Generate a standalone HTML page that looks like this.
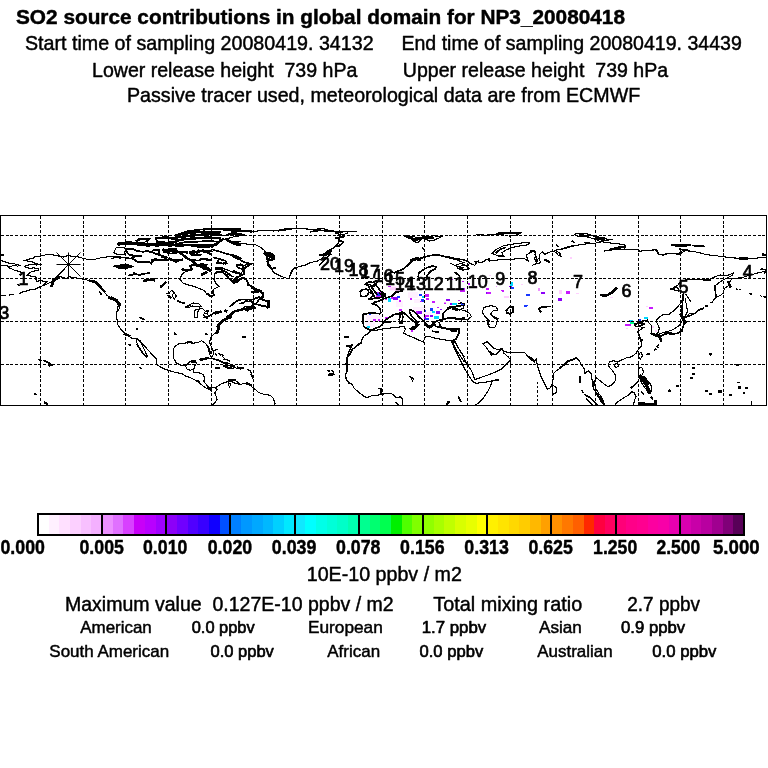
<!DOCTYPE html>
<html><head><meta charset="utf-8"><title>SO2 source contributions</title>
<style>
html,body{margin:0;padding:0;background:#fff;}
body{width:768px;height:768px;overflow:hidden;}
svg{display:block;font-family:"Liberation Sans",sans-serif;will-change:transform;}
text{white-space:pre;}
</style></head>
<body>
<svg width="768" height="768" viewBox="0 0 768 768">
<rect width="768" height="768" fill="#fff"/>
<g fill="#000" stroke="#000" stroke-width="0.45" stroke-linejoin="round">
<text transform="translate(16.00 23.80) scale(1.0105 1)" font-size="20.6" font-weight="bold">SO2 source contributions in global domain for NP3_20080418</text>
<text transform="translate(25.00 49.80) scale(1.0032 1)" font-size="19.6">Start time of sampling 20080419. 34132</text>
<text transform="translate(401.40 49.80) scale(0.9986 1)" font-size="19.6">End time of sampling 20080419. 34439</text>
<text transform="translate(92.00 76.80) scale(0.9981 1)" font-size="19.6">Lower release height  739 hPa</text>
<text transform="translate(402.80 76.80) scale(0.9985 1)" font-size="19.6">Upper release height  739 hPa</text>
<text transform="translate(127.00 102.00) scale(1.0023 1)" font-size="19.6">Passive tracer used, meteorological data are from ECMWF</text>
<text transform="translate(306.70 580.60) scale(1.0035 1)" font-size="19.6">10E-10 ppbv / m2</text>
<text transform="translate(65.00 611.00) scale(0.9967 1)" font-size="19.6">Maximum value  0.127E-10 ppbv / m2</text>
<text transform="translate(433.30 611.00) scale(1.0128 1)" font-size="19.6">Total mixing ratio</text>
<text transform="translate(627.30 611.00) scale(0.9685 1)" font-size="19.6">2.7 ppbv</text>
<text transform="translate(80.30 633.20) scale(1.0331 1)" font-size="16.4">American</text>
<text transform="translate(191.70 633.20) scale(1.0018 1)" font-size="16.4" stroke-width="0.65">0.0 ppbv</text>
<text transform="translate(307.95 633.20) scale(1.0533 1)" font-size="16.4">European</text>
<text transform="translate(421.67 633.20) scale(1.0257 1)" font-size="16.4" stroke-width="0.65">1.7 ppbv</text>
<text transform="translate(539.00 633.20) scale(1.0444 1)" font-size="16.4">Asian</text>
<text transform="translate(621.00 633.20) scale(1.0206 1)" font-size="16.4" stroke-width="0.65">0.9 ppbv</text>
<text transform="translate(49.30 656.50) scale(1.0361 1)" font-size="16.4">South American</text>
<text transform="translate(210.50 656.50) scale(1.0081 1)" font-size="16.4" stroke-width="0.65">0.0 ppbv</text>
<text transform="translate(327.30 656.50) scale(1.0354 1)" font-size="16.4">African</text>
<text transform="translate(419.50 656.50) scale(1.0128 1)" font-size="16.4" stroke-width="0.65">0.0 ppbv</text>
<text transform="translate(537.30 656.50) scale(1.0334 1)" font-size="16.4">Australian</text>
<text transform="translate(652.30 656.50) scale(1.0206 1)" font-size="16.4" stroke-width="0.65">0.0 ppbv</text>
<text transform="translate(0.50 553.80) scale(0.9057 1)" font-size="19.6" font-weight="bold">0.000</text>
<text transform="translate(79.50 553.80) scale(0.9057 1)" font-size="19.6" font-weight="bold">0.005</text>
<text transform="translate(143.00 553.80) scale(0.9057 1)" font-size="19.6" font-weight="bold">0.010</text>
<text transform="translate(207.70 553.80) scale(0.9077 1)" font-size="19.6" font-weight="bold">0.020</text>
<text transform="translate(271.80 553.80) scale(0.9077 1)" font-size="19.6" font-weight="bold">0.039</text>
<text transform="translate(336.00 553.80) scale(0.9077 1)" font-size="19.6" font-weight="bold">0.078</text>
<text transform="translate(400.10 553.80) scale(0.9077 1)" font-size="19.6" font-weight="bold">0.156</text>
<text transform="translate(464.30 553.80) scale(0.9077 1)" font-size="19.6" font-weight="bold">0.313</text>
<text transform="translate(528.40 553.80) scale(0.9077 1)" font-size="19.6" font-weight="bold">0.625</text>
<text transform="translate(593.10 553.80) scale(0.8996 1)" font-size="19.6" font-weight="bold">1.250</text>
<text transform="translate(656.50 553.80) scale(0.8914 1)" font-size="19.6" font-weight="bold">2.500</text>
<text transform="translate(713.00 553.80) scale(0.9525 1)" font-size="19.6" font-weight="bold">5.000</text>
</g>
<clipPath id="mc"><rect x="0" y="215" width="767" height="191"/></clipPath>
<g clip-path="url(#mc)">
<g shape-rendering="crispEdges"><rect x="366.4" y="314.8" width="15.0" height="7.5" fill="#fff0ff"/><rect x="366.4" y="322.2" width="8.8" height="5.0" fill="#fff0ff"/><rect x="395.8" y="301.0" width="7.5" height="6.2" fill="#fff0ff"/><rect x="388.9" y="286.0" width="10.0" height="5.0" fill="#fff0ff"/><rect x="408.2" y="291.6" width="10.0" height="6.2" fill="#fff0ff"/><rect x="413.9" y="299.1" width="6.2" height="3.8" fill="#fff0ff"/><rect x="413.2" y="306.6" width="12.5" height="6.2" fill="#fff0ff"/><rect x="422.6" y="312.2" width="8.8" height="5.0" fill="#fff0ff"/><rect x="390.1" y="286.6" width="6.2" height="3.8" fill="#ffd0ff"/><rect x="394.5" y="287.9" width="5.0" height="3.8" fill="#ffd0ff"/><rect x="376.4" y="291.6" width="7.5" height="6.2" fill="#c818ff"/><rect x="377.2" y="292.5" width="3.2" height="3.2" fill="#1838ff"/><rect x="388.1" y="285.9" width="2.8" height="1.5" fill="#c818ff"/><rect x="392.6" y="296.6" width="5.0" height="3.8" fill="#8c00f8"/><rect x="390.8" y="296.6" width="2.5" height="2.5" fill="#c818ff"/><rect x="387.9" y="297.8" width="3.2" height="4.0" fill="#00d8ff"/><rect x="396.6" y="296.2" width="3.2" height="2.0" fill="#1838ff"/><rect x="399.0" y="299.8" width="2.2" height="1.8" fill="#c818ff"/><rect x="384.5" y="298.4" width="2.5" height="1.5" fill="#c818ff"/><rect x="409.5" y="298.4" width="2.5" height="1.5" fill="#c818ff"/><rect x="418.8" y="293.8" width="2.8" height="2.0" fill="#1838ff"/><rect x="425.4" y="294.4" width="3.8" height="2.5" fill="#c818ff"/><rect x="421.4" y="298.5" width="3.0" height="3.0" fill="#1838ff"/><rect x="422.0" y="296.1" width="2.5" height="2.2" fill="#00d8ff"/><rect x="426.2" y="298.2" width="3.2" height="2.0" fill="#c818ff"/><rect x="420.4" y="300.9" width="2.0" height="1.5" fill="#c818ff"/><rect x="432.2" y="301.2" width="3.2" height="2.0" fill="#c818ff"/><rect x="444.1" y="302.4" width="2.0" height="1.2" fill="#ec90ff"/><rect x="398.5" y="308.8" width="3.2" height="2.0" fill="#c818ff"/><rect x="417.0" y="311.0" width="5.0" height="2.5" fill="#8c00f8"/><rect x="415.8" y="310.8" width="2.5" height="1.8" fill="#c818ff"/><rect x="423.5" y="310.0" width="2.0" height="2.0" fill="#1838ff"/><rect x="429.8" y="308.0" width="3.2" height="3.0" fill="#1838ff"/><rect x="431.9" y="311.2" width="2.8" height="2.0" fill="#00d8ff"/><rect x="436.4" y="311.0" width="3.8" height="2.5" fill="#8c00f8"/><rect x="440.4" y="309.1" width="2.0" height="1.2" fill="#8c00f8"/><rect x="425.4" y="314.8" width="3.2" height="2.5" fill="#c818ff"/><rect x="430.0" y="315.0" width="2.8" height="2.0" fill="#8c00f8"/><rect x="434.1" y="316.0" width="4.5" height="2.5" fill="#00d8ff"/><rect x="425.1" y="318.2" width="3.8" height="2.0" fill="#1838ff"/><rect x="424.1" y="317.0" width="2.0" height="1.8" fill="#8c00f8"/><rect x="368.9" y="314.1" width="2.5" height="1.2" fill="#1838ff"/><rect x="373.2" y="319.4" width="2.5" height="1.2" fill="#c818ff"/><rect x="377.8" y="319.4" width="2.2" height="1.2" fill="#c818ff"/><rect x="384.8" y="317.4" width="3.2" height="1.2" fill="#c818ff"/><rect x="367.0" y="326.0" width="2.5" height="1.5" fill="#00d8ff"/><rect x="428.9" y="325.6" width="1.2" height="1.2" fill="#1838ff"/><rect x="432.2" y="323.6" width="2.0" height="1.2" fill="#c818ff"/><rect x="411.1" y="330.4" width="1.8" height="1.2" fill="#c818ff"/><rect x="460.0" y="288.0" width="5.2" height="4.2" fill="#c818ff"/><rect x="461.0" y="287.7" width="3.1" height="2.1" fill="#1838ff"/><rect x="450.8" y="279.2" width="1.7" height="1.2" fill="#c818ff"/><rect x="462.2" y="280.6" width="1.7" height="1.2" fill="#c818ff"/><rect x="467.5" y="283.3" width="2.1" height="1.2" fill="#c818ff"/><rect x="473.7" y="285.9" width="2.7" height="1.2" fill="#c818ff"/><rect x="486.3" y="288.4" width="2.7" height="1.2" fill="#c818ff"/><rect x="486.2" y="291.9" width="4.8" height="1.9" fill="#8c00f8"/><rect x="489.4" y="275.1" width="1.5" height="1.0" fill="#ffd0ff"/><rect x="495.6" y="285.5" width="1.7" height="1.0" fill="#ec90ff"/><rect x="501.3" y="290.1" width="2.7" height="1.0" fill="#c818ff"/><rect x="503.7" y="296.2" width="4.2" height="1.2" fill="#ffd0ff"/><rect x="510.0" y="281.7" width="2.5" height="3.8" fill="#00d8ff"/><rect x="511.2" y="286.9" width="3.1" height="2.5" fill="#1838ff"/><rect x="509.4" y="285.6" width="2.1" height="1.7" fill="#8c00f8"/><rect x="446.4" y="299.4" width="3.1" height="1.2" fill="#8c00f8"/><rect x="457.9" y="299.5" width="2.1" height="1.0" fill="#c818ff"/><rect x="449.5" y="303.1" width="4.2" height="2.1" fill="#8c00f8"/><rect x="451.9" y="303.4" width="4.6" height="1.9" fill="#00d8ff"/><rect x="461.0" y="302.7" width="4.2" height="2.1" fill="#1838ff"/><rect x="444.0" y="303.2" width="1.7" height="1.0" fill="#c818ff"/><rect x="437.0" y="306.9" width="2.1" height="1.2" fill="#c818ff"/><rect x="486.7" y="291.8" width="4.3" height="1.7" fill="#c818ff"/><rect x="474.0" y="286.0" width="3.0" height="1.7" fill="#c818ff"/><rect x="501.7" y="290.2" width="2.7" height="1.7" fill="#c818ff"/><rect x="504.2" y="296.0" width="4.3" height="1.7" fill="#ffd0ff"/><rect x="526.3" y="294.3" width="3.3" height="1.7" fill="#1838ff"/><rect x="523.8" y="305.2" width="3.3" height="1.7" fill="#1838ff"/><rect x="537.8" y="287.5" width="2.0" height="2.0" fill="#ffd0ff"/><rect x="541.3" y="291.8" width="3.3" height="1.7" fill="#8c00f8"/><rect x="559.3" y="290.2" width="2.3" height="3.3" fill="#ffd0ff"/><rect x="566.3" y="291.5" width="3.3" height="2.3" fill="#c818ff"/><rect x="557.5" y="298.2" width="4.3" height="2.3" fill="#8c00f8"/><rect x="569.7" y="257.8" width="1.7" height="1.3" fill="#ffd0ff"/><rect x="527.0" y="294.3" width="3.0" height="1.3" fill="#1838ff"/><rect x="524.2" y="304.7" width="3.7" height="1.7" fill="#1838ff"/><rect x="537.5" y="288.2" width="2.0" height="2.3" fill="#ec90ff"/><rect x="541.8" y="292.3" width="3.3" height="1.7" fill="#8c00f8"/><rect x="559.0" y="290.0" width="2.3" height="3.3" fill="#ffd0ff"/><rect x="566.0" y="290.7" width="4.0" height="2.7" fill="#c818ff"/><rect x="557.5" y="298.7" width="4.3" height="2.0" fill="#8c00f8"/><rect x="576.2" y="292.7" width="3.0" height="1.0" fill="#ffd0ff"/><rect x="570.2" y="257.3" width="1.7" height="1.3" fill="#ffd0ff"/><rect x="601.3" y="294.2" width="6.0" height="1.7" fill="#1838ff"/><rect x="610.0" y="296.8" width="2.7" height="1.0" fill="#ffd0ff"/><rect x="521.0" y="283.7" width="1.7" height="1.3" fill="#ffd0ff"/><rect x="625.0" y="323.5" width="6.0" height="2.7" fill="#c818ff"/><rect x="628.8" y="319.7" width="4.3" height="2.0" fill="#1838ff"/><rect x="630.2" y="319.5" width="2.3" height="1.7" fill="#00d8ff"/><rect x="630.3" y="322.3" width="3.3" height="1.7" fill="#00ff90"/><rect x="638.0" y="319.2" width="2.7" height="1.3" fill="#1838ff"/><rect x="644.2" y="317.3" width="3.3" height="2.0" fill="#00d8ff"/><rect x="645.5" y="305.7" width="2.3" height="1.7" fill="#ffd0ff"/><rect x="649.2" y="307.3" width="3.3" height="2.0" fill="#c818ff"/><rect x="633.8" y="327.7" width="2.3" height="1.3" fill="#ffd0ff"/><rect x="652.3" y="325.5" width="2.0" height="2.3" fill="#ffd0ff"/><rect x="654.7" y="330.2" width="2.3" height="1.3" fill="#ffd0ff"/><rect x="625.7" y="327.7" width="2.0" height="1.0" fill="#ffd0ff"/></g>
<g stroke="#000" stroke-width="1" fill="none" shape-rendering="crispEdges"><g stroke-dasharray="3 1.67"><line x1="40.5" y1="216" x2="40.5" y2="405"/><line x1="83.2" y1="216" x2="83.2" y2="405"/><line x1="125.9" y1="216" x2="125.9" y2="405"/><line x1="168.6" y1="216" x2="168.6" y2="405"/><line x1="211.3" y1="216" x2="211.3" y2="405"/><line x1="253.9" y1="216" x2="253.9" y2="405"/><line x1="296.6" y1="216" x2="296.6" y2="405"/><line x1="339.3" y1="216" x2="339.3" y2="405"/><line x1="382.0" y1="216" x2="382.0" y2="405"/><line x1="424.7" y1="216" x2="424.7" y2="405"/><line x1="467.4" y1="216" x2="467.4" y2="405"/><line x1="510.1" y1="216" x2="510.1" y2="405"/><line x1="552.8" y1="216" x2="552.8" y2="405"/><line x1="595.5" y1="216" x2="595.5" y2="405"/><line x1="638.2" y1="216" x2="638.2" y2="405"/><line x1="680.8" y1="216" x2="680.8" y2="405"/><line x1="723.5" y1="216" x2="723.5" y2="405"/><line x1="1" y1="235.5" x2="766" y2="235.5"/><line x1="1" y1="278.5" x2="766" y2="278.5"/><line x1="1" y1="321.5" x2="766" y2="321.5"/><line x1="1" y1="364.5" x2="766" y2="364.5"/></g><rect x="0.5" y="215.5" width="766" height="190"/></g>
<g stroke="#000" fill="none" stroke-linejoin="miter" stroke-linecap="square" shape-rendering="crispEdges">
<path d="M0.0 260.4 L3.3 261.2 L6.7 262.5 L10.0 263.3 L14.2 263.8 L17.5 264.6 L20.0 265.4 L17.5 266.2 L15.0 265.4 L12.5 265.8 L10.0 267.1 L8.3 266.2 L5.8 265.4 L2.5 265.2 L0.0 265.2 M8.3 267.5 L11.7 268.8 L15.0 270.4 L18.3 271.2 L20.8 272.1 L22.5 272.5 M19.2 274.2 L21.7 274.2 M64.0 257.1 L57.5 255.8 L51.7 254.6 L46.7 254.6 L40.0 256.2 L35.0 256.7 L33.3 258.3 L28.3 259.2 L25.0 260.4 L28.3 261.2 L31.7 261.2 L33.3 262.5 L36.7 263.8 L41.7 264.6 L36.7 265.0 L33.3 264.6 L28.3 265.0 L24.2 266.2 L26.7 267.5 L30.0 268.3 L33.3 267.9 L38.3 268.3 L38.3 270.8 L35.0 270.8 L30.8 272.1 L28.3 273.8 L26.7 275.8 L28.3 275.0 L31.7 276.7 L36.7 277.1 L35.8 279.2 L36.7 281.2 L40.0 280.8 L45.0 281.2 L46.7 281.7 L43.3 285.0 M20.0 293.3 L23.3 291.7 L27.5 290.8 L30.8 289.6 L35.0 289.2 L38.3 287.5 L41.7 286.2 L45.0 285.0 L48.3 283.3 L51.7 282.1 L53.3 279.2 L56.7 277.5 L58.3 275.0 L61.7 271.7 L64.0 269.6 M1.7 295.7 L5.0 295.7 M9.2 295.0 L13.3 294.6 M17.1 284.2 L19.6 285.8 M64.0 256.3 L68.3 255.8 L78.3 257.0 L86.7 259.2 L93.3 259.7 L100.0 258.0 L108.3 256.7 L116.7 256.7 L128.0 257.7 M53.3 281.7 L57.5 275.8 L61.7 277.0 L66.7 278.7 L68.7 276.7 L73.3 277.5 L83.3 279.2 L88.3 280.3 L93.3 281.7 L98.3 285.8 L102.5 290.0 L106.7 295.0 L111.7 298.3 L116.7 300.8 L120.0 305.0 L118.7 310.3 M224.0 382.7 L230.7 381.0 L235.7 383.5 L240.7 384.3 L245.7 383.2 L249.0 384.3 L251.7 386.8 L255.0 389.3 L259.0 392.7 L264.0 394.3 L270.0 395.2 L273.3 398.5 L275.0 403.5 L274.0 406.0 M229.0 380.0 L235.7 380.0 M247.3 369.3 L250.7 371.0 L251.7 376.0 L252.5 378.5 M224.0 359.3 L229.0 360.2 M352.0 345.8 L349.0 351.7 L346.7 358.3 L347.5 365.0 L346.7 371.7 L345.0 375.0 L346.7 379.3 L349.0 383.3 L352.0 384.3 M157.0 360.0 L156.2 364.3 L160.3 366.8 L165.3 369.3 L170.3 371.0 L176.2 372.7 L182.0 373.5 L185.3 376.0 L190.3 377.7 L195.3 380.2 L199.7 382.7 L203.0 386.0 L207.0 388.5 L210.3 390.2 L212.0 387.7 L215.3 387.7 L217.2 389.3 L214.7 392.7 L216.3 396.7 L217.2 400.0 L213.8 403.5 L211.3 406.0 M174.0 359.0 L176.2 362.7 L180.3 365.2 L185.3 366.0 L188.7 362.7 L191.3 361.0 L195.3 361.0 L196.3 363.3 L194.7 366.0 L193.7 369.3 L193.7 372.7 L198.7 372.7 L203.0 374.3 L204.7 377.7 L203.8 381.0 L205.5 383.5 L208.0 386.8 L210.3 387.7 L212.0 387.7 M185.3 366.0 L187.3 369.3 L190.3 370.2 L193.7 369.3 M215.3 387.7 L220.3 384.3 L227.0 381.8 L232.0 380.2 L236.2 381.0 L240.0 384.3 M228.7 383.0 L230.7 384.2 L229.5 387.0 L228.3 385.0 L228.7 383.0 M224.5 366.0 L228.7 365.2 L233.7 366.0 L235.5 367.7 L230.3 368.5 L225.3 367.7 L224.5 366.0 M214.0 350.2 L217.7 349.8 M215.5 353.7 L217.0 355.8 M219.0 353.7 L220.7 355.0 M222.7 356.7 L224.7 358.7 M226.7 359.7 L229.3 361.0 M221.5 354.7 L223.0 355.3 M403.5 235.8 L409.3 237.5 L414.3 241.7 L418.0 242.5 L421.0 239.3 L426.0 236.8 L434.3 235.8 L441.3 236.8 L434.7 240.0 L429.7 241.0 L424.7 238.5 L419.3 238.3 L412.7 236.3 L403.5 235.8 M336.0 232.5 L346.0 231.7 L356.0 231.7 M336.0 233.3 L342.7 235.0 L347.7 233.0 M422.3 247.7 L423.3 249.0 M440.2 255.2 L449.3 257.7 L457.7 260.2 L464.0 262.7 M451.0 263.5 L457.7 266.8 L464.0 265.2 M459.3 268.3 L461.8 267.3 L464.0 268.0 M459.7 268.7 L462.7 270.0 L464.0 269.3 M419.3 272.7 L418.0 276.7 L419.3 280.3 M348.5 383.0 L345.2 377.0 L347.0 370.3 L346.0 363.7 L347.7 357.0 L351.8 349.7 L356.0 346.3 L361.0 342.0 L363.7 336.3 L367.7 333.8 L370.2 331.3 L372.0 330.7 L377.7 330.0 L384.3 328.7 L391.0 328.0 L399.3 327.0 L404.5 326.7 L405.3 329.7 L403.5 333.0 L407.7 335.3 L414.3 338.0 L419.3 340.3 L423.7 342.0 L424.5 337.2 L428.7 336.3 L434.3 338.0 L442.7 339.7 L451.0 340.5 L455.3 339.7 L456.3 338.7 M452.0 341.3 L454.3 346.3 L457.7 352.0 L461.0 357.0 L464.0 361.3 M453.7 340.3 L457.7 347.0 L462.0 353.7 L464.0 356.3 M409.3 328.7 L414.0 330.0 M410.2 377.0 L413.0 379.0 L411.8 377.0 M224.0 230.3 L234.0 231.0 L245.7 230.3 L254.0 231.3 L264.0 230.5 L274.0 231.0 L280.7 229.7 L289.0 228.3 L297.3 228.3 L310.7 229.3 L324.0 228.8 L330.7 230.8 L340.7 231.7 L352.0 231.3 M224.0 235.3 L232.3 234.3 L240.7 233.3 L244.3 235.0 L234.0 236.8 L227.3 238.5 L230.7 241.7 L240.7 241.3 M227.3 239.3 L234.0 242.5 L242.3 243.5 L249.0 244.3 L255.7 244.8 L260.7 247.5 L264.8 250.8 L265.7 253.7 L267.7 255.8 L266.5 258.7 L268.3 261.0 L267.0 264.2 L270.7 268.3 L274.0 272.7 L279.0 275.3 L284.8 277.7 L289.0 278.7 M289.0 278.7 L290.7 273.3 L294.0 268.3 L299.0 266.7 L305.7 265.0 L310.7 262.5 L317.3 261.0 L322.3 258.3 L324.0 255.0 L327.3 251.0 L334.0 247.7 L338.2 243.3 L339.3 240.0 L340.7 235.0 L340.7 231.7 M224.0 262.5 L226.0 261.7 L227.3 263.3 L225.3 264.3 L224.0 263.3 M237.3 265.0 L244.0 265.3 L250.7 264.3 L245.7 267.7 L242.7 270.8 L240.7 274.3 L234.0 272.7 L227.3 270.0 L224.0 268.7 M224.0 273.7 L229.0 275.0 L234.0 277.0 M230.7 279.3 L234.0 281.7 L237.3 281.0 L240.7 278.7 L244.0 277.7 L247.3 281.7 L250.7 286.7 L254.3 290.0 L259.8 291.0 L263.3 295.0 L262.7 298.3 M656.0 320.2 L658.9 317.4 L663.3 314.5 L669.1 314.2 L673.5 310.9 L677.9 306.5 L681.5 302.1 L683.0 296.9 L683.1 293.7 M670.6 289.0 L677.9 287.2 L678.2 291.0 L670.6 289.0 M685.9 294.1 L688.8 298.5 L691.1 302.1 M685.2 298.3 L686.6 306.4 L687.5 311.5 L684.6 317.3 L682.4 318.8 M682.4 318.8 L686.0 317.4 L690.4 315.7 L692.5 313.4 L689.8 313.2 L687.5 316.0 L684.9 317.3 M682.4 320.4 L679.3 325.5 L675.0 328.4 L670.6 330.6 L664.8 332.0 L660.4 333.5 L656.0 335.7 M714.3 285.2 L715.1 291.0 L715.9 296.9 L712.3 302.1 M715.9 296.9 L720.2 295.6 L723.2 292.6 L724.7 288.1 L728.9 285.4 L730.5 280.8 L732.0 277.9 M736.5 289.0 L737.7 289.3 M739.4 289.6 L740.6 289.9 M760.3 295.6 L761.7 296.3 M448.0 307.3 L453.0 306.5 L458.0 309.0 L464.7 310.7 L469.7 313.3 L471.5 316.7 L468.0 319.2 L461.3 320.0 L454.7 318.8 L448.0 317.5 M451.3 307.3 L456.3 310.7 L463.0 308.3 L464.7 304.0 L461.3 302.7 L458.0 304.0 M448.0 329.2 L453.0 328.3 L459.0 329.2 L458.0 334.2 L455.7 339.2 L453.0 342.5 L451.7 340.7 M451.3 340.7 L454.7 349.0 L459.7 359.0 L464.7 369.0 L469.7 377.3 L473.0 381.7 L476.3 383.3 L483.0 382.3 L489.7 381.7 L492.3 380.8 L490.7 385.7 L487.3 392.3 L483.0 398.3 L478.0 403.3 L473.8 405.8 M454.7 340.7 L458.0 347.3 L463.0 355.7 L466.3 363.3 L470.5 369.2 L473.0 374.2 L474.7 379.7 L481.3 377.3 L488.0 375.0 L494.7 372.3 L501.3 369.2 L505.7 365.0 L510.7 360.0 L508.0 356.7 L504.0 353.3 L502.3 349.2 L499.8 350.8 L496.3 354.2 L491.3 355.0 L489.0 351.7 L485.7 346.7 L483.0 343.8 L487.3 341.7 L490.7 345.0 L494.0 348.3 L499.0 350.0 L502.3 349.2 M502.3 349.2 L504.7 351.7 L509.7 352.5 L518.0 352.8 L524.7 352.5 L528.0 356.7 L531.3 360.0 L534.7 361.7 L536.3 359.2 L537.3 365.0 L539.0 370.7 L541.3 377.3 L544.7 384.0 L547.3 389.2 L549.8 388.3 L552.3 384.2 L553.2 379.0 L553.2 374.0 L556.3 370.8 L561.3 367.5 L566.3 363.3 L570.7 360.0 L576.0 357.5 M552.7 385.0 L556.0 387.5 L556.5 392.3 L553.3 394.2 L552.3 390.0 L552.7 385.0 M537.7 382.3 L537.8 383.5 M537.7 386.7 L537.8 387.8 M537.7 391.0 L537.8 392.2 M537.7 395.3 L537.8 396.5 M537.7 399.7 L537.8 400.8 M537.7 404.0 L537.8 405.2 M482.2 312.3 L484.0 307.3 L490.7 305.7 L495.7 306.7 L498.0 310.0 L493.0 310.8 L490.7 314.0 L494.0 317.5 L497.3 320.0 L496.5 324.0 L494.7 327.8 L489.7 327.5 L487.3 324.0 L489.0 320.7 L485.7 317.3 L482.2 312.3 M448.0 401.2 L449.5 401.2 M361.8 340.0 L361.0 343.3 L356.0 346.7 L352.7 349.3 L350.3 354.3 L347.0 358.3 L346.0 364.3 L347.7 370.0 L345.3 375.0 L347.7 381.7 L352.0 384.3 L354.3 388.3 L359.3 392.7 L363.7 396.0 L367.0 397.7 L371.0 396.0 L377.7 395.2 L381.0 394.3 L386.0 393.8 L391.0 393.5 L393.7 395.2 L396.0 397.7 L400.3 396.8 L402.7 399.3 L402.7 406.0 M410.2 376.7 L413.7 378.5 L412.7 381.0 L410.2 376.7 M751.7 401.7 L751.7 404.3 M646.7 354.3 L649.7 354.0 M657.5 346.3 L658.3 345.3 M113.7 252.5 L116.2 247.6 L124.5 247.6 L125.4 249.2 L124.5 254.2 L117.0 254.2 L113.7 252.5 M112.0 258.3 L115.3 257.6 L119.5 258.0 L124.5 257.8 L128.7 258.4 L132.8 258.8 L135.3 260.9 M214.4 274.2 L213.9 279.4 L215.4 282.5 L217.5 285.1 L219.1 286.2 L216.5 287.8 L213.4 289.3 L212.8 293.0 L214.4 295.0 L212.3 296.1 M167.0 293.8 L169.5 293.0 L171.2 290.5 L173.7 291.7 L172.3 296.3 L174.5 298.8 L176.2 296.0 L174.5 293.0 M195.3 264.7 L190.3 266.7 L192.3 269.0 L186.2 270.7 L182.0 274.7 L179.5 278.8 L182.8 283.0 L187.0 284.7 L193.7 286.3 L198.7 288.3 L204.5 290.5 L207.0 294.3 L209.5 296.3 L212.0 296.8 L214.0 293.8 L212.3 290.5 M112.0 297.7 L115.3 299.3 L119.0 302.2 L120.0 305.5 L117.8 306.7 L116.7 313.0 L117.0 319.7 L118.0 325.0 L121.3 329.7 L124.7 333.8 L128.7 335.7 L131.3 338.0 L133.7 338.3 L137.2 338.7 L145.3 347.0 L152.0 354.3 L156.7 359.0 M137.0 339.0 L140.3 341.0 L142.3 345.5 L144.7 350.5 L147.3 356.3 L146.2 357.2 L143.7 353.8 L140.7 349.7 L138.0 345.5 L136.3 341.3 L137.0 339.0 M174.0 359.0 L173.0 353.0 L174.3 346.7 L178.7 344.0 L185.3 343.2 L189.0 341.3 L191.3 343.0 L193.7 343.2 L198.7 342.3 L201.7 340.7 L205.0 343.0 L207.7 346.3 L208.7 351.3 L210.3 355.7 L212.0 357.3 L213.7 353.3 L212.0 348.0 L209.7 343.0 L210.3 338.3 L212.0 335.7 L215.3 333.0 L217.7 329.7 L217.0 326.3 L219.3 322.3 L223.7 319.7 L228.7 316.3 L231.3 313.7 M185.3 307.3 L189.5 304.7 L193.7 303.0 L198.7 303.8 L201.3 306.3 L197.3 306.8 L192.0 306.0 L188.0 308.0 L185.3 307.3 M194.5 310.3 L194.5 317.2 L197.5 317.2 L197.5 312.7 L199.0 309.7 L197.0 309.0 L195.0 310.3 M199.5 308.0 L203.0 309.0 L205.3 311.3 L208.2 310.7 L207.3 314.0 L204.7 313.0 L203.3 315.0 L205.3 316.7 M137.0 329.0 L137.7 329.0 M175.0 334.0 L175.7 334.0 M206.2 334.7 L206.8 334.7 M130.0 344.7 L130.7 345.7 M476.3 234.7 L486.3 235.2 L498.0 233.8 L504.7 232.7 L521.3 232.5 L518.0 234.7 L509.7 236.0 M492.2 253.3 L496.3 249.3 L503.0 246.0 L511.3 244.3 L521.3 243.0 L529.7 242.5 L528.3 244.7 L519.7 246.0 L511.3 247.7 L505.7 250.2 L501.7 252.7 L503.8 256.0 L498.0 256.0 L492.2 253.3 M448.0 256.7 L456.3 258.7 L464.7 260.2 L469.7 262.7 L468.3 265.0 M456.3 265.0 L461.3 263.3 L466.3 266.0 L469.7 268.7 L463.0 270.2 L458.0 268.5 L456.3 265.0 M469.7 263.3 L474.7 265.2 L477.3 261.8 L481.3 262.7 L487.3 259.3 L489.7 261.0 L496.3 260.2 L503.0 259.3 L511.3 259.8 L518.0 258.2 L524.7 258.8 L528.2 261.0 L526.3 255.2 L529.7 252.7 L534.0 251.0 L535.7 253.5 L534.7 258.5 L536.5 263.5 L532.3 265.2 L534.8 264.3 L540.7 262.7 L539.0 258.5 L539.7 254.3 L542.3 251.8 L544.7 254.3 L548.0 252.7 L553.0 251.0 L556.3 252.7 L559.0 256.0 L560.7 255.0 L559.0 252.7 L554.7 250.2 L561.3 249.3 L568.0 247.7 L576.0 245.2 M574.2 234.2 L581.7 233.3 L589.2 234.2 L595.0 236.7 L603.3 237.5 L608.3 240.0 L600.0 241.7 L595.8 239.3 L586.7 236.8 L578.3 236.3 L574.2 234.2 M560.0 249.3 L565.0 247.7 L571.7 246.0 L580.0 244.8 L586.7 243.8 L595.0 243.2 L601.7 241.8 L608.3 242.7 L615.0 243.5 L621.7 244.3 L625.3 245.2 L624.3 249.3 L616.7 249.3 L610.0 250.2 L604.2 251.0 M625.0 249.3 L631.7 249.8 L637.5 249.8 L640.0 251.5 L643.3 250.2 L650.0 250.2 L656.7 249.8 L659.3 254.3 L663.3 255.2 L668.3 253.2 L675.0 253.8 L680.0 254.3 L684.2 251.0 L688.0 250.2 M610.0 239.7 L612.0 240.0 M671.3 244.9 L679.3 244.2 L691.0 244.9 L685.2 246.4 L677.9 246.8 L671.3 244.9 M656.0 250.7 L658.9 254.4 L664.8 254.1 L670.6 253.6 L679.3 253.2 L682.2 250.9 L688.1 250.9 L693.9 251.6 L699.8 252.8 L707.0 254.8 L714.3 255.5 L723.1 256.7 L728.9 257.6 L737.7 258.2 L746.4 258.5 L755.2 258.2 L765.4 257.3 M670.6 289.4 L677.9 285.1 L680.8 280.8 L689.5 279.3 L698.3 279.3 L704.1 280.0 L710.0 279.3 L715.8 276.4 L720.2 274.9 L724.5 275.7 L728.9 274.9 L733.3 273.0 L731.8 275.7 L727.5 277.9 L723.1 280.0 L718.7 283.0 L715.1 285.9 L715.1 290.8 L716.7 296.7 L714.6 299.0 M727.5 277.9 L734.8 278.6 L743.5 277.1 L750.8 274.9 L758.1 272.8 L765.7 271.3 M560.0 367.3 L563.3 365.0 L567.7 360.8 L572.7 360.0 L576.7 357.8 L579.3 360.8 L581.7 365.0 L584.3 369.2 L585.0 373.3 L588.3 370.8 L591.0 373.3 L591.7 379.0 L593.3 382.3 L592.7 385.8 L594.3 390.0 L597.7 395.8 L601.7 402.5 L604.3 405.8 M605.0 405.8 L602.7 399.2 L599.3 394.2 L596.0 389.2 L594.3 382.5 L596.0 377.5 L600.0 380.7 L604.3 384.2 L608.3 386.7 L611.8 385.0 L615.2 380.8 L615.2 375.0 L612.7 370.8 L609.3 367.5 L608.3 364.2 L610.0 361.7 L613.3 360.7 L617.5 362.0 L621.7 360.0 L626.7 357.8 L631.7 356.7 L636.0 353.3 L638.5 349.0 L641.0 346.7 L641.8 341.7 L640.2 338.3 L639.3 335.0 L637.7 331.7 L641.0 329.2 L643.3 327.7 L640.0 326.7 L638.3 326.7 L635.0 325.8 L634.3 324.0 L638.3 322.5 L643.3 320.8 L647.7 320.0 L648.5 322.5 L651.0 325.0 L651.8 328.3 L651.5 332.3 L653.3 335.0 L655.8 335.0 L658.3 332.5 L659.3 328.3 L657.7 324.2 L656.0 321.7 L658.3 318.3 L660.0 317.0 M614.2 364.3 L617.5 363.3 L618.7 365.7 L616.3 367.7 L614.3 366.3 L614.2 364.3 M639.7 338.3 L642.5 340.0 L640.3 341.0 M638.7 356.5 L639.3 353.2 L641.7 352.5 L642.2 356.5 L640.2 359.2 L638.7 356.5 M647.0 354.2 L648.3 353.8 M654.5 349.7 L655.3 348.8 M657.7 345.5 L658.2 344.7 M638.3 369.0 L640.0 367.3 L642.7 368.3 L643.3 372.3 L641.8 375.7 L644.3 378.3 L646.7 380.0 L649.3 382.3 L651.0 385.7 L651.8 390.0 L650.0 393.3 L647.7 392.5 L646.0 389.2 L643.3 385.7 L641.0 381.7 L639.3 377.3 L638.3 372.3 L638.3 369.0 M614.2 405.8 L617.7 401.7 L623.3 398.3 L628.3 395.0 L631.8 391.7 L634.3 392.5 L636.0 396.7 L634.3 400.8 L633.5 405.8 M669.2 390.0 L669.5 391.0" stroke-width="1.12"/>
<path d="M0.0 255.0 L2.9 255.0 M99.7 292.0 L101.3 294.3 M251.3 374.7 L252.7 377.7 M224.0 366.0 L229.0 367.7 L234.0 366.0 L230.7 365.0 M243.2 337.2 L245.0 337.2 M328.2 370.5 L329.3 371.2 M332.0 370.5 L333.2 371.7 M344.8 336.8 L348.3 336.8 M346.5 346.3 L350.0 346.8 M197.8 380.8 L200.3 383.7 M207.8 388.3 L211.2 389.7 M191.7 361.7 L195.3 362.0 M228.7 380.8 L232.8 380.0 M200.3 359.3 L205.3 358.2 L212.0 358.5 L218.7 360.2 L223.7 362.7 L229.0 363.5 M201.2 360.0 L207.8 358.5 M215.7 368.2 L219.3 368.2 M129.2 344.7 L130.0 345.3 M140.0 367.7 L140.8 368.5 M174.7 333.3 L175.7 334.3 M205.8 334.0 L207.0 334.7 M391.0 272.0 L394.7 272.7 L398.0 271.0 L402.7 269.3 L407.7 265.3 L411.0 262.0 L413.7 259.3 L419.3 258.7 L423.0 257.5 L429.3 255.7 L436.0 254.7 L439.7 255.2 L444.7 256.5 L452.7 258.5 L464.0 259.8 M455.2 272.5 L459.3 275.8 M419.3 272.7 L422.7 270.0 L427.0 267.7 L432.7 266.0 L436.3 266.8 L434.7 269.3 L431.0 271.0 L428.7 273.3 L426.3 277.0 L429.3 278.3 M366.6 283.2 L369.5 282.0 L372.8 282.4 L376.2 280.8 L377.0 282.8 L374.5 284.5 L377.0 286.2 L378.7 288.7 L380.3 290.8 L382.0 292.8 L385.3 294.1 L385.3 296.2 L382.8 297.0 L379.5 297.8 L376.2 297.8 L372.8 298.7 L370.8 298.7 L371.6 296.6 L374.1 295.8 L372.8 293.7 L371.6 291.2 L369.5 288.7 L368.7 285.8 L366.6 283.2 M369.9 284.5 L372.0 287.8 L374.5 291.2 L377.0 294.5 M366.6 283.2 L365.3 284.5 L367.8 285.5 M371.6 291.3 L369.8 292.5 L372.0 293.8 M370.8 298.7 L368.7 299.2 M372.8 286.2 L376.2 285.3 M379.5 292.8 L382.0 295.3 L384.5 295.3 M360.3 292.0 L362.0 289.9 L365.8 289.1 L368.2 289.9 L368.7 292.4 L367.8 294.9 L364.5 296.6 L360.8 296.2 L360.3 292.0 M372.4 303.7 L374.1 302.4 L377.0 301.6 L379.5 300.8 L380.8 299.9 L382.8 299.1 L385.3 298.2 L388.7 297.0 L391.6 296.2 L393.7 294.5 L395.3 292.4 L398.7 291.6 L402.0 290.8 M372.4 303.7 L376.2 304.9 L378.7 307.0 L380.3 309.5 L380.8 312.8 L379.5 313.7 L374.5 313.2 L368.7 313.2 L362.8 314.5 L362.4 317.0 L363.2 320.0 M363.5 314.7 L362.7 320.3 L363.7 326.3 L366.0 328.0 L370.2 330.3 L374.3 328.8 L380.3 326.3 L383.7 322.3 L386.0 319.7 L390.3 317.0 L393.7 314.7 L398.7 313.7 L402.0 312.0 L403.0 312.3 L406.0 314.7 L409.3 318.0 L412.7 320.3 L416.0 323.0 L418.7 324.7 L417.0 326.3 L415.3 325.0 L417.7 322.3 L414.3 318.7 L411.0 315.3 L409.3 312.0 L410.3 309.7 L412.7 310.5 L416.0 313.7 L419.3 317.2 L422.7 320.3 L425.3 323.0 L427.0 326.3 L429.3 328.0 L431.8 325.5 L432.8 323.0 L436.0 321.3 L439.3 320.3 L442.7 319.7 L442.7 314.0 L446.0 310.5 L449.5 308.0 L456.0 306.3 L464.0 305.3 M384.3 322.3 L390.2 321.7 M440.2 319.7 L446.0 318.7 L452.7 318.0 L459.3 318.7 L464.0 318.0 M436.0 326.3 L442.7 328.0 L449.3 328.8 L456.0 329.7 L459.5 328.7 L458.7 333.7 L456.0 338.7 M439.3 322.8 L441.0 327.0 L446.0 328.7 M400.2 314.7 L402.0 313.7 L402.8 317.0 L402.0 323.0 L400.2 323.0 L399.3 319.7 L400.2 314.7 M412.7 327.2 L417.0 326.3 L414.3 328.8 L411.8 328.0 L412.7 327.2 M432.7 331.3 L438.0 332.2 M451.3 330.5 L456.0 330.0 M345.2 336.5 L347.3 336.5 M346.8 345.7 L350.2 346.3 L352.0 344.7 M232.3 231.8 L242.3 231.3 L251.5 231.7 M279.0 230.7 L284.8 229.7 L290.7 229.3 M310.7 231.7 L320.7 230.3 L330.7 231.3 M234.0 234.7 L240.7 234.0 M272.3 268.7 L274.8 268.0 M290.7 273.3 L293.2 269.2 L295.7 267.5 M334.8 246.7 L340.7 245.0 L343.2 241.7 L339.0 240.0 M335.7 238.3 L344.0 236.7 M319.8 265.0 L324.8 259.2 L330.7 254.2 M234.0 280.3 L239.0 279.3 M247.7 284.8 L251.8 286.5 L256.0 289.0 L261.0 291.1 L263.5 294.0 L263.5 297.3 L261.0 298.2 M230.2 306.5 L234.3 302.8 L239.3 299.8 L245.2 299.4 L251.8 299.8 L256.0 298.2 L259.3 296.9 M255.2 304.4 L257.7 301.5 L259.3 299.0 L262.7 299.8 L266.8 301.1 L269.3 303.2 L269.3 306.1 L267.7 307.3 L264.3 305.7 L261.8 306.1 L259.3 304.8 L255.2 304.4 M240.2 303.6 L243.5 302.8 L245.2 301.1 L250.2 301.5 L252.7 301.9 L253.5 304.4 L251.8 306.5 L249.3 307.3 L245.2 306.5 L243.5 308.2 L241.8 309.0 M244.3 309.4 L247.7 310.7 M225.3 310.5 L226.2 311.7 M683.1 294.7 L682.4 304.2 L681.7 312.9 L682.4 318.8 M684.4 319.6 L686.0 321.8 L684.0 324.6 M712.3 302.1 L711.1 302.7 M705.9 306.2 L707.3 305.9 M703.0 308.5 L698.6 310.1 L694.8 313.4 L691.1 315.2 M684.0 323.1 L683.1 326.9 L681.7 331.3 L676.4 333.5 L672.0 334.2 L667.7 333.5 L663.3 334.9 L660.4 336.4 L661.2 341.5 L659.8 339.3 L658.9 335.7 L656.0 336.4 M749.6 293.5 L751.4 294.0 M763.9 296.6 L765.7 297.2 M709.7 354.2 L710.5 354.8 M657.2 346.2 L657.8 347.0 M453.0 309.0 L459.7 309.7 M451.7 331.5 L456.0 331.2 M489.7 352.0 L493.0 354.0 M501.0 348.7 L502.7 350.3 M493.8 380.5 L498.2 380.0 M494.7 317.3 L497.7 319.0 M487.2 320.7 L488.8 324.0 M506.3 310.7 L509.0 307.3 L513.0 307.0 L513.5 311.7 L509.7 313.8 L506.7 312.8 L506.3 310.7 M540.7 311.7 L538.8 309.3 L541.3 307.0 L550.0 306.5 M458.8 397.3 L460.7 401.0 M378.7 388.5 L381.0 388.5 L381.3 393.3 M396.0 402.7 L397.7 404.3 M446.8 404.3 L449.5 401.8 M458.7 397.7 L460.3 401.0 M39.3 359.7 L40.7 360.3 M44.2 360.7 L48.3 362.5 L51.7 365.0 L49.3 365.8 M34.7 393.8 L35.7 394.5 M710.0 354.3 L710.7 354.3 M693.0 368.0 L693.7 368.0 M693.0 374.2 L693.7 374.2 M691.3 378.0 L692.0 378.0 M677.2 386.3 L677.8 386.3 M669.3 390.8 L670.0 390.8 M706.3 391.3 L707.0 391.3 M710.0 394.2 L710.7 394.2 M730.2 395.0 L730.8 395.0 M737.2 365.0 L737.8 365.0 M738.0 382.5 L738.7 382.5 M743.8 393.3 L744.5 393.3 M654.7 350.0 L655.7 349.3 M127.0 242.9 L137.0 244.6 L147.0 245.8 L155.3 245.4 M126.2 249.3 L133.7 249.2 L137.0 250.9 L142.8 251.8 L147.8 250.9 L151.2 252.6 L153.7 250.1 L158.7 250.1 L158.8 253.4 L162.0 256.8 L166.2 257.2 L165.4 259.2 L158.7 260.1 L155.3 258.8 L152.0 261.8 L151.2 263.4 L148.7 261.8 L143.7 261.8 L137.0 261.8 L135.3 260.1 L132.0 258.4 L132.8 256.8 L142.0 256.3 L133.7 255.5 L129.5 254.7 L127.0 252.6 L126.2 249.3 M114.5 266.2 L120.3 265.8 L125.3 264.2 L128.7 265.4 L132.0 266.7 L125.3 267.9 L118.7 267.7 L114.5 266.2 M163.7 251.8 L168.7 249.2 L176.0 249.2 M163.7 251.8 L170.3 253.4 L176.0 253.4 M176.0 235.2 L187.7 231.3 L196.8 230.0 L206.0 229.1 L240.0 229.1 M176.0 243.8 L186.0 242.1 L197.7 241.7 L209.3 240.8 L216.0 241.7 M176.0 246.2 L188.5 245.4 L201.0 245.0 L211.8 246.2 M152.0 245.0 L168.7 244.7 L185.3 245.2 L216.0 244.8 M152.0 252.3 L158.7 254.8 L167.0 257.3 M152.0 259.8 L160.3 260.2 L167.8 259.8 M189.5 252.3 L193.7 250.7 L198.7 254.8 L191.2 254.0 L189.5 252.3 M201.2 259.0 L210.3 260.2 M189.5 266.1 L197.0 264.8 L203.7 265.7 L209.5 269.0 L210.3 271.5 M152.0 279.8 L154.5 280.7 M212.8 249.7 L219.1 251.3 L226.4 253.9 L233.7 255.5 L238.9 259.1 L244.1 262.2 L251.4 263.8 L246.2 266.9 L244.1 269.0 L244.1 274.2 L242.0 275.2 L236.8 277.3 L233.7 279.9 L231.6 281.0 L229.0 278.4 L226.4 275.2 L222.2 272.1 L217.0 272.1 L214.4 274.2 M236.8 264.8 L241.0 264.3 L243.6 266.4 L243.0 269.0 L239.9 268.5 L236.8 266.4 L236.8 264.8 M233.7 271.1 L237.8 272.6 L241.0 274.2 M213.9 257.5 L218.0 258.6 L221.2 259.6 L225.3 260.7 L226.9 263.3 L223.2 263.8 L220.1 262.8 L217.0 263.3 L218.0 260.7 M217.0 268.5 L222.2 270.0 L226.4 272.1 L230.5 275.2 M192.0 246.1 L200.3 247.1 L210.8 246.6 M192.0 251.8 L198.2 252.3 L202.4 250.2 L211.8 251.3 M192.0 255.5 L201.4 254.4 M192.0 259.6 L198.2 260.7 L203.5 258.6 L208.7 259.6 M192.0 264.8 L197.2 265.9 L201.4 263.8 L206.6 264.8 L204.5 269.0 L208.7 270.0 M202.4 274.2 L206.6 272.1 M231.6 281.0 L233.7 283.1 L236.8 282.0 L239.9 279.9 L243.0 277.3 L246.2 279.9 L248.8 284.1 L251.9 287.8 L254.5 289.3 L259.7 290.4 L262.8 293.0 L262.8 296.1 L260.8 298.2 M264.9 254.6 L271.2 255.5 M267.0 261.7 L269.1 264.8 L272.0 269.0 M115.3 266.0 L122.0 265.0 L131.2 266.0 M118.7 266.3 L127.8 265.7 M122.0 267.2 L127.0 267.7 M128.7 275.5 L135.3 274.0 L139.5 275.0 L142.8 274.0 L149.5 273.0 M133.7 273.0 L137.0 274.3 M161.7 286.3 L165.0 283.0 M168.3 295.5 L170.7 297.7 M177.8 301.0 L180.7 302.3 M182.0 302.7 L184.5 303.3 M207.8 293.8 L210.7 296.2 L213.7 295.0 M137.0 344.7 L140.0 348.8 L143.0 353.8 L145.3 355.7 M187.8 342.7 L191.7 342.0 M207.8 346.3 L210.3 353.0 M186.2 306.7 L190.3 305.0 M204.0 317.3 L207.8 316.7 L210.7 315.3 L213.7 313.0 M204.5 316.0 L207.0 318.0 M225.3 311.3 L227.0 310.7 M140.3 317.7 L143.7 319.3 M496.3 252.7 L500.0 249.3 L505.5 247.5 M459.7 268.0 L462.2 269.2 M475.5 262.0 L478.3 261.3 M485.5 259.7 L488.8 259.3 M531.3 250.8 L534.7 251.3 M535.5 255.0 L537.2 261.7 M556.7 245.5 L558.0 246.3 M572.3 241.3 L573.7 242.3 M580.0 235.0 L588.3 235.8 M585.0 242.5 L589.2 243.0 M572.7 241.3 L573.7 242.3 M560.0 254.3 L560.7 256.0 M675.0 245.3 L686.6 245.3 M693.2 245.6 L704.1 246.4 M680.1 249.3 L687.4 250.0 M704.1 280.3 L710.0 279.8 M761.3 269.1 L765.7 269.8 L764.6 272.8 M592.5 382.3 L594.2 385.7 M635.8 324.0 L641.7 322.7 L644.2 324.0 L640.0 325.7 M585.0 394.8 L590.0 397.5 L593.3 400.8 L597.7 405.7 M586.7 399.2 L591.0 403.3 L592.7 405.8 M595.8 392.3 L600.0 397.5 L603.7 403.7 M651.3 333.7 L654.2 334.3 M631.7 387.5 L636.0 383.3 L637.7 381.7 M641.7 392.3 L643.3 394.0 M651.3 397.3 L652.7 399.0 M580.2 377.3 L580.3 382.3 M582.3 391.0 L582.8 392.3 M677.2 385.7 L678.2 386.3" stroke-width="1.7000000000000002"/>
<path d="M51.7 285.8 L53.3 281.7 L55.8 279.2 L58.3 277.5 M90.0 280.8 L95.8 282.0 L100.0 286.7 L104.2 291.3 M109.2 297.8 L115.0 300.0 L119.7 304.2 M51.7 285.0 L54.2 279.2 L56.7 278.3 M247.3 383.7 L250.7 385.0 M238.2 368.2 L242.5 368.2 M329.3 374.7 L333.3 374.2 M237.8 367.7 L240.0 368.2 M407.7 237.0 L416.0 239.7 L422.7 237.7 L432.7 238.0 M426.0 324.5 L430.2 327.0 L434.3 324.5 M264.8 253.7 L269.0 253.0 L273.2 255.0 L274.0 258.7 L270.7 260.0 L267.7 258.7 M267.0 256.0 L272.0 256.7 M320.7 255.0 L327.3 254.2 L330.7 250.8 M251.8 291.9 L257.7 291.9 M231.0 314.0 L234.3 311.5 L239.3 310.2 L243.5 309.0 L247.7 309.0 L251.8 308.2 L254.3 307.8 M231.0 314.0 L230.6 317.3 L226.0 319.0 L222.7 320.7 L220.2 323.2 L218.5 325.7 L218.1 332.0 M216.0 313.2 L220.2 312.0 M664.8 333.0 L670.6 333.3 M529.7 357.7 L534.3 361.0 M45.0 402.7 L46.7 403.7 M719.5 391.7 L720.5 391.7 M739.2 387.5 L740.2 387.5 M746.2 388.0 L747.2 388.0 M137.0 240.8 L139.5 239.2 L148.7 239.2 L147.0 241.2 M156.2 238.3 L165.3 237.5 L176.0 238.8 M157.0 241.7 L166.2 242.9 L176.0 242.1 M158.7 244.6 L170.3 245.4 L176.0 245.0 M169.5 258.4 L176.0 261.8 M181.0 234.2 L192.7 232.5 L203.5 231.7 L219.3 232.5 M176.0 237.5 L186.0 236.2 L197.7 235.0 L209.3 234.2 L221.0 235.0 M176.0 240.8 L184.3 239.2 L195.2 238.3 L207.7 237.5 L219.3 238.3 M222.7 239.2 L217.7 242.9 L211.8 246.8 M226.0 239.2 L230.2 241.8 L236.0 244.2 L240.0 245.1 M229.3 234.2 L234.3 233.3 L240.0 234.2 M163.7 249.8 L173.7 251.5 L187.0 252.3 M168.7 259.0 L175.3 260.7 L182.0 259.8 M179.5 252.3 L187.0 258.2 L192.0 260.7 L197.0 264.8 L202.0 267.3 L210.3 270.7 M198.7 250.7 L205.3 251.5 L210.3 254.0 M182.8 269.4 L187.0 270.5 L191.2 269.4 M202.0 274.4 L206.2 272.3 M161.2 286.5 L165.3 282.8 M216.0 268.5 L222.2 268.5 M144.5 280.7 L153.7 279.2 M125.0 334.0 L129.3 335.8 M216.7 332.7 L218.7 328.3 L218.0 325.7 L221.2 321.7 M227.0 317.3 L231.2 314.3 L233.7 312.3 M214.0 313.0 L220.3 311.8 M498.0 233.8 L506.3 233.0 L519.7 233.0 M545.5 260.0 L548.8 261.7 M595.8 238.0 L603.3 239.7 M610.0 249.7 L618.3 247.7 L624.7 246.7 M600.8 295.2 L606.7 295.5 L611.7 292.7 L616.0 288.3 M740.6 258.6 L746.7 258.6 M763.2 254.7 L765.7 255.2 M728.5 282.1 L730.4 286.5 M644.2 377.3 L648.3 383.2" stroke-width="2.5000000000000004"/>
<path d="M412.0 260.3 L416.0 258.7 L419.3 259.3 M268.1 301.9 L268.7 306.7 M681.1 314.7 L683.7 319.9 M119.1 244.0 L128.7 242.9 L139.5 243.8 L157.0 245.0 M233.7 256.0 L239.9 258.8 M112.0 298.3 L116.2 300.5 L119.0 303.8 M640.3 376.5 L643.3 380.7 L646.7 385.7 L649.2 391.5 M640.0 403.7 L646.7 404.3 L653.3 405.0 M655.3 402.0 L656.0 405.7" stroke-width="3.3000000000000003"/>
</g>
<g stroke="#000" stroke-width="1" fill="none"><line x1="56.5" y1="264.5" x2="80.5" y2="264.5"/><line x1="68.5" y1="252.5" x2="68.5" y2="277.5"/><line x1="56.5" y1="252.5" x2="80.5" y2="276.5"/><line x1="56.5" y1="276.5" x2="80.5" y2="252.5"/></g>
<g font-size="18" text-anchor="middle" stroke="#000" stroke-width="0.7" stroke-linejoin="round" transform="scale(1.0001 1)"><text x="330.0" y="270.0">20</text><text x="344.0" y="271.7">19</text><text x="358.5" y="275.8">18</text><text x="370.0" y="278.3">17</text><text x="383.5" y="281.7">16</text><text x="395.0" y="285.5">15</text><text x="404.8" y="290.2">14</text><text x="416.0" y="290.3">13</text><text x="433.7" y="290.2">12</text><text x="455.0" y="290.0">11</text><text x="477.8" y="288.5">10</text><text x="500.1" y="285.4">9</text><text x="532.5" y="284.2">8</text><text x="578.0" y="288.3">7</text><text x="626.4" y="297.5">6</text><text x="683.4" y="293.3">5</text><text x="747.8" y="277.7">4</text><text x="4.2" y="319.0">3</text><text x="23.5" y="284.6">1</text></g>
</g>
<g shape-rendering="crispEdges"><rect x="37.80" y="514" width="11.00" height="21" fill="#ffffff"/><rect x="48.50" y="514" width="11.00" height="21" fill="#fff0ff"/><rect x="59.20" y="514" width="11.00" height="21" fill="#ffe0ff"/><rect x="69.90" y="514" width="11.00" height="21" fill="#fcd0ff"/><rect x="80.60" y="514" width="11.00" height="21" fill="#f8c0ff"/><rect x="91.30" y="514" width="11.00" height="21" fill="#f4b0ff"/><rect x="102.00" y="514" width="11.00" height="21" fill="#ec90ff"/><rect x="112.70" y="514" width="11.00" height="21" fill="#e070ff"/><rect x="123.40" y="514" width="11.00" height="21" fill="#d840ff"/><rect x="134.10" y="514" width="11.00" height="21" fill="#c800f8"/><rect x="144.80" y="514" width="11.00" height="21" fill="#b800ff"/><rect x="155.50" y="514" width="11.00" height="21" fill="#a000ff"/><rect x="166.20" y="514" width="11.00" height="21" fill="#8c00f8"/><rect x="176.90" y="514" width="11.00" height="21" fill="#7000ff"/><rect x="187.60" y="514" width="11.00" height="21" fill="#5000ff"/><rect x="198.30" y="514" width="11.00" height="21" fill="#3800ff"/><rect x="209.00" y="514" width="11.00" height="21" fill="#1000ff"/><rect x="219.70" y="514" width="11.00" height="21" fill="#0050ff"/><rect x="230.40" y="514" width="11.00" height="21" fill="#0080ff"/><rect x="241.10" y="514" width="11.00" height="21" fill="#0098ff"/><rect x="251.80" y="514" width="11.00" height="21" fill="#00a8ff"/><rect x="262.50" y="514" width="11.00" height="21" fill="#00b8ff"/><rect x="273.20" y="514" width="11.00" height="21" fill="#00d0ff"/><rect x="283.90" y="514" width="11.00" height="21" fill="#00e8ff"/><rect x="294.60" y="514" width="11.00" height="21" fill="#10e8ff"/><rect x="305.30" y="514" width="11.00" height="21" fill="#00ffff"/><rect x="316.00" y="514" width="11.00" height="21" fill="#00ffe8"/><rect x="326.70" y="514" width="11.00" height="21" fill="#00ffd8"/><rect x="337.40" y="514" width="11.00" height="21" fill="#00ffc8"/><rect x="348.10" y="514" width="11.00" height="21" fill="#00ffb0"/><rect x="358.80" y="514" width="11.00" height="21" fill="#00ff90"/><rect x="369.50" y="514" width="11.00" height="21" fill="#00ff70"/><rect x="380.20" y="514" width="11.00" height="21" fill="#00ff50"/><rect x="390.90" y="514" width="11.00" height="21" fill="#00f000"/><rect x="401.60" y="514" width="11.00" height="21" fill="#50ff00"/><rect x="412.30" y="514" width="11.00" height="21" fill="#80ff00"/><rect x="423.00" y="514" width="11.00" height="21" fill="#90ff00"/><rect x="433.70" y="514" width="11.00" height="21" fill="#a8ff00"/><rect x="444.40" y="514" width="11.00" height="21" fill="#c0ff00"/><rect x="455.10" y="514" width="11.00" height="21" fill="#d8ff00"/><rect x="465.80" y="514" width="11.00" height="21" fill="#e8ff00"/><rect x="476.50" y="514" width="11.00" height="21" fill="#ffff00"/><rect x="487.20" y="514" width="11.00" height="21" fill="#fff000"/><rect x="497.90" y="514" width="11.00" height="21" fill="#ffe400"/><rect x="508.60" y="514" width="11.00" height="21" fill="#ffd800"/><rect x="519.30" y="514" width="11.00" height="21" fill="#ffcc00"/><rect x="530.00" y="514" width="11.00" height="21" fill="#ffb800"/><rect x="540.70" y="514" width="11.00" height="21" fill="#ffa000"/><rect x="551.40" y="514" width="11.00" height="21" fill="#ff9000"/><rect x="562.10" y="514" width="11.00" height="21" fill="#ff7800"/><rect x="572.80" y="514" width="11.00" height="21" fill="#ff6000"/><rect x="583.50" y="514" width="11.00" height="21" fill="#ff2800"/><rect x="594.20" y="514" width="11.00" height="21" fill="#ff0040"/><rect x="604.90" y="514" width="11.00" height="21" fill="#ff0060"/><rect x="615.60" y="514" width="11.00" height="21" fill="#ff0078"/><rect x="626.30" y="514" width="11.00" height="21" fill="#ff0088"/><rect x="637.00" y="514" width="11.00" height="21" fill="#ff0090"/><rect x="647.70" y="514" width="11.00" height="21" fill="#fc00a0"/><rect x="658.40" y="514" width="11.00" height="21" fill="#f800a8"/><rect x="669.10" y="514" width="11.00" height="21" fill="#e800b0"/><rect x="679.80" y="514" width="11.00" height="21" fill="#d800b0"/><rect x="690.50" y="514" width="11.00" height="21" fill="#c800a8"/><rect x="701.20" y="514" width="11.00" height="21" fill="#b800a0"/><rect x="711.90" y="514" width="11.00" height="21" fill="#a00090"/><rect x="722.60" y="514" width="11.00" height="21" fill="#800078"/><rect x="733.30" y="514" width="11.00" height="21" fill="#580058"/></g><g stroke="#000" stroke-width="2" fill="none" shape-rendering="crispEdges"><rect x="37.8" y="514.0" width="706.2" height="21.0"/><line x1="102.0" y1="514" x2="102.0" y2="535"/><line x1="166.2" y1="514" x2="166.2" y2="535"/><line x1="230.4" y1="514" x2="230.4" y2="535"/><line x1="294.6" y1="514" x2="294.6" y2="535"/><line x1="358.8" y1="514" x2="358.8" y2="535"/><line x1="423.0" y1="514" x2="423.0" y2="535"/><line x1="487.2" y1="514" x2="487.2" y2="535"/><line x1="551.4" y1="514" x2="551.4" y2="535"/><line x1="615.6" y1="514" x2="615.6" y2="535"/><line x1="679.8" y1="514" x2="679.8" y2="535"/></g>
</svg>
</body></html>
